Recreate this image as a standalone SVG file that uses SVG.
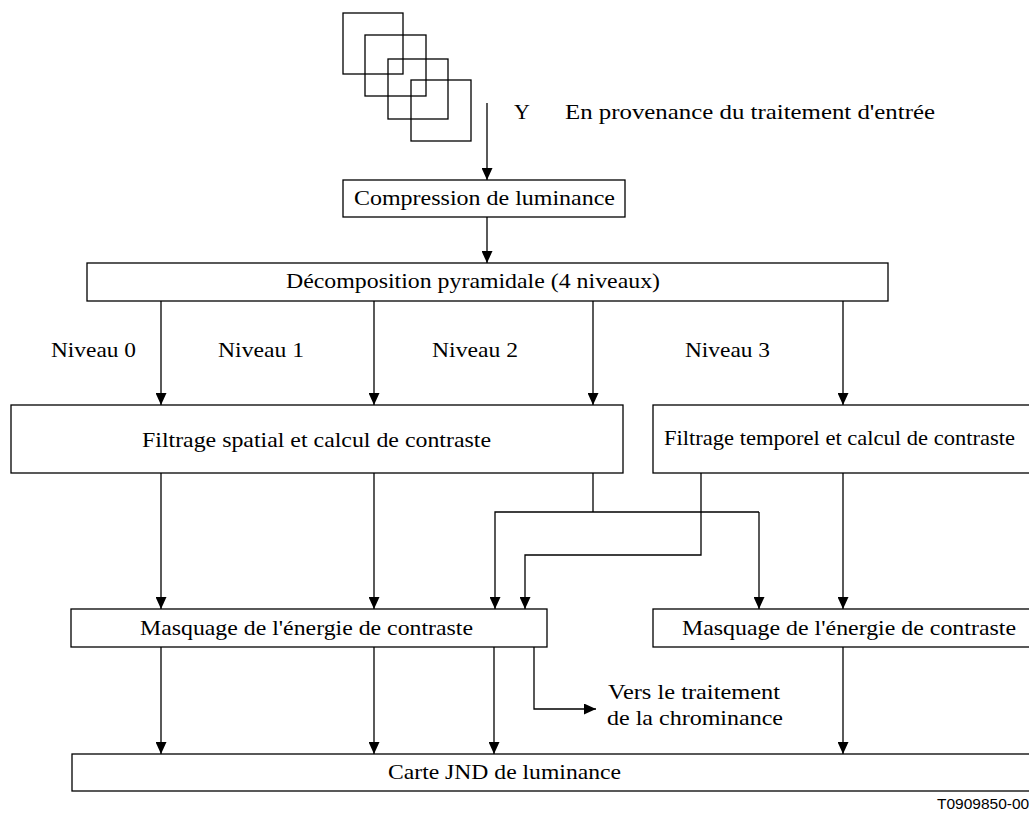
<svg xmlns="http://www.w3.org/2000/svg" width="1029" height="813" viewBox="0 0 1029 813">
  <defs>
    <marker id="arrow" markerUnits="userSpaceOnUse" markerWidth="12" markerHeight="11" refX="12" refY="5.5" orient="auto">
      <path d="M0,0 L12,5.5 L0,11 z" fill="#000"/>
    </marker>
    <style>
      .box { fill: #fff; stroke: #000; stroke-width: 1.3; }
      .sq { fill: none; stroke: #000; stroke-width: 1.3; }
      .ln { fill: none; stroke: #000; stroke-width: 1.3; }
      .arr { fill: none; stroke: #000; stroke-width: 1.3; marker-end: url(#arrow); }
      .t { font-family: "Liberation Serif", "Times New Roman", serif; font-size: 22px; fill: #000; }
      .ref { font-family: "Liberation Sans", Arial, sans-serif; font-size: 15.5px; fill: #000; }
    </style>
  </defs>
  <rect width="1029" height="813" fill="#fff"/>

  <!-- stacked input frames -->
  <g id="frames">
    <rect class="sq" x="343" y="13" width="60" height="61"/>
    <rect class="sq" x="365" y="35" width="61" height="61"/>
    <rect class="sq" x="388" y="59" width="60" height="60"/>
    <rect class="sq" x="411" y="80" width="60" height="61"/>
  </g>

  <g id="input-label">
    <text class="t" x="514" y="119">Y</text>
    <text class="t" x="565" y="119" textLength="370" lengthAdjust="spacingAndGlyphs">En provenance du traitement d'entrée</text>
  </g>

  <!-- connectors -->
  <g id="connectors">
    <line class="arr" x1="487" y1="103" x2="487" y2="180"/>
    <line class="arr" x1="487" y1="217" x2="487" y2="263"/>
    <line class="arr" x1="161" y1="301" x2="161" y2="405"/>
    <line class="arr" x1="374" y1="301" x2="374" y2="405"/>
    <line class="arr" x1="593" y1="301" x2="593" y2="405"/>
    <line class="arr" x1="843" y1="301" x2="843" y2="405"/>
    <line class="arr" x1="161" y1="473" x2="161" y2="609"/>
    <line class="arr" x1="374" y1="473" x2="374" y2="609"/>
    <line class="ln" x1="593" y1="473" x2="593" y2="512"/>
    <polyline class="arr" points="759,512 495,512 495,609"/>
    <line class="arr" x1="759" y1="512" x2="759" y2="609"/>
    <polyline class="arr" points="701,473 701,555 525,555 525,609"/>
    <line class="arr" x1="843" y1="473" x2="843" y2="609"/>
    <line class="arr" x1="161" y1="647" x2="161" y2="754"/>
    <line class="arr" x1="374" y1="647" x2="374" y2="754"/>
    <line class="arr" x1="494" y1="647" x2="494" y2="754"/>
    <polyline class="arr" points="534,647 534,709 596,709"/>
    <line class="arr" x1="843" y1="647" x2="843" y2="754"/>
  </g>

  <g id="compression">
    <rect class="box" x="343" y="180" width="282" height="37"/>
    <text class="t" x="354" y="205" textLength="261" lengthAdjust="spacingAndGlyphs">Compression de luminance</text>
  </g>

  <g id="decomposition">
    <rect class="box" x="87" y="263" width="801" height="38"/>
    <text class="t" x="286" y="288" textLength="374" lengthAdjust="spacingAndGlyphs">Décomposition pyramidale (4 niveaux)</text>
  </g>

  <g id="level-labels">
    <text class="t" x="51" y="357" textLength="85" lengthAdjust="spacingAndGlyphs">Niveau 0</text>
    <text class="t" x="218" y="357" textLength="86" lengthAdjust="spacingAndGlyphs">Niveau 1</text>
    <text class="t" x="432" y="357" textLength="86" lengthAdjust="spacingAndGlyphs">Niveau 2</text>
    <text class="t" x="685" y="357" textLength="85" lengthAdjust="spacingAndGlyphs">Niveau 3</text>
  </g>

  <g id="spatial-filter">
    <rect class="box" x="11" y="405" width="612" height="68"/>
    <text class="t" x="142" y="447" textLength="349" lengthAdjust="spacingAndGlyphs">Filtrage spatial et calcul de contraste</text>
  </g>

  <g id="temporal-filter">
    <rect class="box" x="653" y="405" width="380" height="68"/>
    <text class="t" x="664" y="445" textLength="351" lengthAdjust="spacingAndGlyphs">Filtrage temporel et calcul de contraste</text>
  </g>

  <g id="masking-spatial">
    <rect class="box" x="71" y="609" width="476" height="38"/>
    <text class="t" x="140" y="635" textLength="333" lengthAdjust="spacingAndGlyphs">Masquage de l'énergie de contraste</text>
  </g>

  <g id="masking-temporal">
    <rect class="box" x="653" y="609" width="380" height="38"/>
    <text class="t" x="682" y="635" textLength="334" lengthAdjust="spacingAndGlyphs">Masquage de l'énergie de contraste</text>
  </g>

  <g id="chroma-label">
    <text class="t" x="608" y="699" textLength="172" lengthAdjust="spacingAndGlyphs">Vers le traitement</text>
    <text class="t" x="607" y="725" textLength="176" lengthAdjust="spacingAndGlyphs">de la chrominance</text>
  </g>

  <g id="jnd-map">
    <rect class="box" x="72" y="754" width="961" height="37"/>
    <text class="t" x="388" y="779" textLength="233" lengthAdjust="spacingAndGlyphs">Carte JND de luminance</text>
  </g>

  <text class="ref" x="937" y="809">T0909850-00</text>
</svg>
